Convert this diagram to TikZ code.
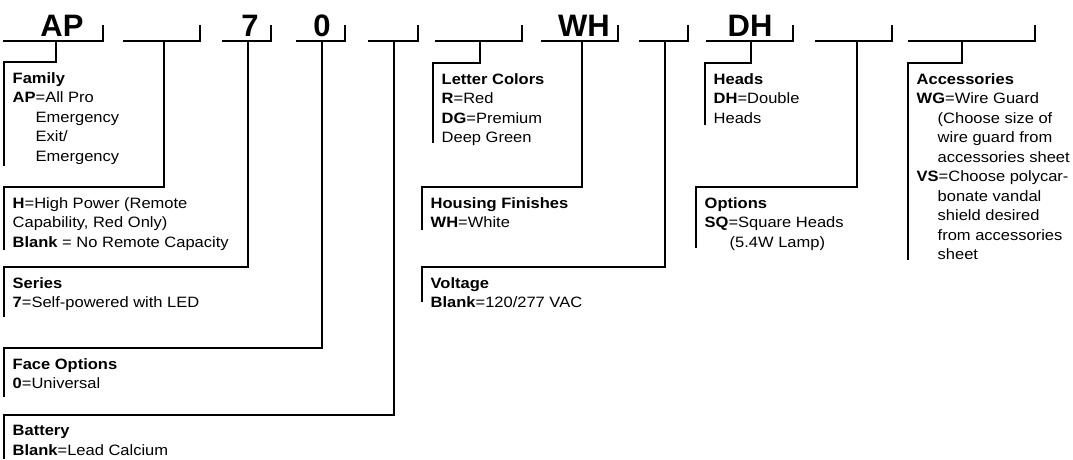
\documentclass[tikz,border=0pt]{standalone}
\usepackage{fontspec}
\setmainfont{Liberation Sans}[FakeStretch=1.1]
\newfontfamily\codefont{Liberation Sans}
\usetikzlibrary{calc}
\tikzset{
  rule/.style={draw=black,line width=2.3pt,line cap=butt,line join=miter},
  codelabel/.style={font=\codefont\bfseries\fontsize{31}{31}\selectfont,anchor=base,inner sep=0pt},
  entrytext/.style={font=\fontsize{15}{19.5}\selectfont,align=left,anchor=north west,inner sep=0pt},
}
\newcommand{\cslot}[4]{%
  \draw[rule] (#2,41) -- (#3,41) -- (#3,25);
  \coordinate (#1) at (#4,41);}
\newcommand{\clabel}[3]{\node[codelabel] (#1) at (#2,36) {#3};}
\newcommand{\centry}[6]{%
  \coordinate (#2-top) at (#3,#4);
  \coordinate (#2-end) at (#3,#5);
  \draw[rule] (#1) |- (#2-top) -- (#2-end);
  \node[entrytext] (#2) at ($(#2-top)+(8.5,10)$) {#6};}
\newcommand{\ind}[1]{\hspace*{#1pt}}

\begin{document}
\begin{tikzpicture}[x=1pt,y=-1pt]
        \useasboundingbox (0,0) rectangle (1073,459);
        \cslot{s1}{3}{103}{56}\cslot{s2}{123}{200}{164}\cslot{s3}{222}{271}{248}
        \cslot{s4}{296}{345}{322}\cslot{s5}{368}{418}{394}\cslot{s6}{435}{522}{480}
        \cslot{s7}{541}{618}{582}\cslot{s8}{639}{688}{665}\cslot{s9}{706}{793}{751}
        \cslot{s10}{815}{892}{857}\cslot{s11}{908}{1035}{962}
        \clabel{codeAP}{62}{AP}\clabel{code7}{250}{7}\clabel{code0}{322}{0}
        \clabel{codeWH}{584}{WH}\clabel{codeDH}{750}{DH}
        \centry{s1}{fam}{4}{62}{166}{\textbf{Family}\\\textbf{AP}=All Pro\\\ind{23}Emergency\\\ind{23}Exit/\\\ind{23}Emergency}
        \centry{s2}{hpow}{4}{187}{250}{\textbf{H}=High Power (Remote\\Capability, Red Only)\\\textbf{Blank} = No Remote Capacity}
        \centry{s3}{ser}{4}{267}{317}{\textbf{Series}\\\textbf{7}=Self-powered with LED}
        \centry{s4}{face}{4}{348}{397}{\textbf{Face Options}\\\textbf{0}=Universal}
        \centry{s5}{bat}{4}{415}{459}{\textbf{Battery}\\\textbf{Blank}=Lead Calcium}
        \centry{s6}{lcol}{433}{63}{143}{\textbf{Letter Colors}\\\textbf{R}=Red\\\textbf{DG}=Premium\\Deep Green}
        \centry{s7}{hous}{422}{187}{230}{\textbf{Housing Finishes}\\\textbf{WH}=White}
        \centry{s8}{volt}{422}{267}{302}{\textbf{Voltage}\\\textbf{Blank}=120/277 VAC}
        \centry{s9}{heads}{705}{63}{125}{\textbf{Heads}\\\textbf{DH}=Double\\Heads}
        \centry{s10}{opt}{696}{187}{248}{\textbf{Options}\\\textbf{SQ}=Square Heads\\\ind{25}(5.4W Lamp)}
        \centry{s11}{acc}{908}{63}{260}{\textbf{Accessories}\\\textbf{WG}=Wire Guard\\\ind{21}(Choose size of\\\ind{21}wire guard from\\\ind{21}accessories sheet\\\textbf{VS}=Choose polycar-\\\ind{21}bonate vandal\\\ind{21}shield desired\\\ind{21}from accessories\\\ind{21}sheet}
      \end{tikzpicture}
\end{document}
